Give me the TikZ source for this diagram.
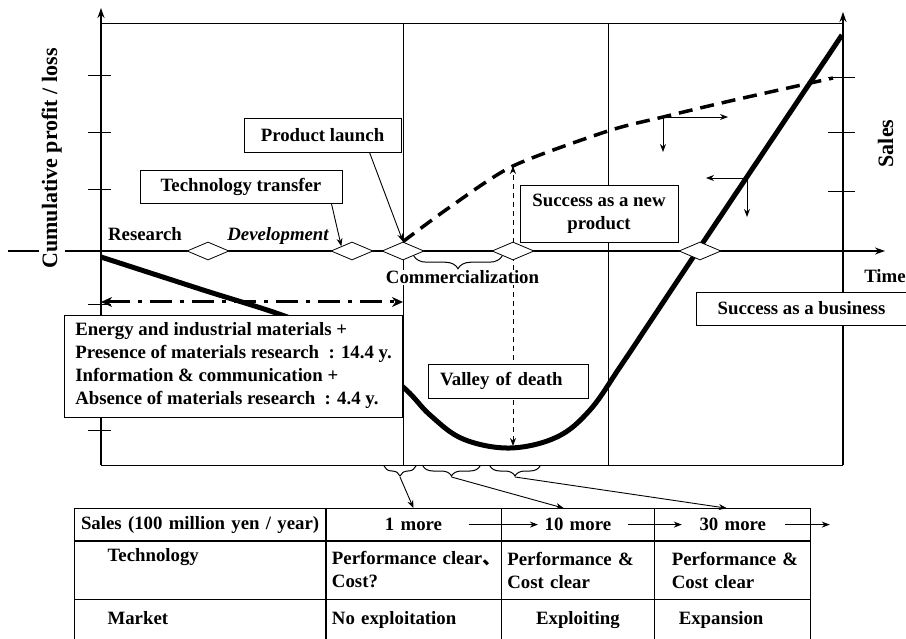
\documentclass[tikz,border=0pt]{standalone}
\usepackage{fontspec}
\setmainfont{Liberation Serif}
\newfontfamily\cjk{Noto Sans CJK JP}
\usepackage{tikz}
\usetikzlibrary{positioning,arrows,arrows.meta,shapes.geometric,matrix,decorations.pathreplacing}

\tikzstyle{labelbox}  = [rectangle, draw, fill=white, line width=0.8pt, inner sep=2pt, align=center]
\tikzstyle{milestone} = [diamond, draw, fill=white, line width=0.8pt, inner sep=0pt, minimum width=42pt, minimum height=18pt]
\tikzstyle{arrow}     = [line width=0.9pt,->,>={Stealth[length=8pt,width=6pt]}]
\tikzstyle{chartaxis} = [line width=1.5pt,->,>={Stealth[length=10pt,width=7pt]}]
\tikzstyle{bracket}   = [line width=1pt, decorate, decoration={brace, mirror, amplitude=10pt}]

\begin{document}
\begin{tikzpicture}[x=1pt, y=-1pt, font=\fontsize{18.8}{23}\selectfont\bfseries,
    salestable/.style={matrix of nodes, inner sep=0pt, column sep=-\pgflinewidth, row sep=-\pgflinewidth,
      nodes={draw, line width=0.8pt, anchor=center, inner xsep=6pt, inner ysep=0pt, align=left},
      column 1/.style={nodes={text width=239pt}},
      column 2/.style={nodes={text width=163pt}},
      column 3/.style={nodes={text width=141pt}},
      column 4/.style={nodes={text width=144pt}},
      row 1/.style={nodes={minimum height=32pt, align=center}},
      row 2/.style={nodes={minimum height=58pt}},
      row 3/.style={nodes={minimum height=40pt}}},
    biglabel/.style={rotate=90, anchor=base, font=\fontsize{22}{26}\selectfont\bfseries}]
  \useasboundingbox (0,0) rectangle (906,639);

  % frame and phase borders
  \draw[line width=1pt] (101,24) -- (843,24) (101,465) -- (843,465);
  \draw[line width=0.8pt] (403,24) -- (403,465) (608,24) -- (608,465);

  % axes
  \draw[chartaxis] (101,465) -- (101,8);
  \draw[chartaxis] (843,465) -- (843,12);
  \draw[chartaxis] (8,251) -- (885,251);
  \foreach \y in {76,133,190,305,430}
    \draw[line width=1pt] (88,\y) -- (111,\y);
  \foreach \y in {78,133,192}
    \draw[line width=1pt] (828,\y) -- (855,\y);

  \node[biglabel, fill=white, inner sep=3pt] (profitlabel) at (57,158.5) {Cumulative profit / loss};
  \node[biglabel] (saleslabel) at (893,143.5) {Sales};
  \node[anchor=base] (timelabel) at (885,283) {Time};

  % cumulative profit / loss
  \draw[line width=5pt] plot[smooth, tension=0.6] coordinates {(101,257) (200,289) (290,318) (350,346) (403,387) (430,415) (463,439) (510,448) (557,437) (590,410) (620,367) (660,307) (700,247) (842,35)};

  \coordinate (peak) at (513,166);
  \coordinate (trough) at (513,446);
  \draw[line width=0.8pt, dash pattern=on 5pt off 4pt, {Stealth[length=8pt,width=6pt]}-{Stealth[length=8pt,width=6pt]}] (trough) -- (peak);

  % milestones on the time axis
  \node[milestone] (d1) at (208,251) {};
  \node[milestone] (d2) at (352,251) {};
  \node[milestone] (d3) at (403,251) {};
  \node[milestone] (d4) at (513,251) {};
  \node[milestone] (d5) at (700,251) {};

  \node[anchor=base] (research) at (145,241) {Research};
  \node[anchor=base] (development) at (278,241) {\itshape Development};
  \node[anchor=base, fill=white, inner sep=1pt] (commerce) at (462.5,284) {Commercialization};
  \draw[bracket, decoration={amplitude=13pt}] (d3.south east) -- (d4.south west);

  % sales of the new product
  \draw[line width=3.5pt, dash pattern=on 14pt off 8pt] plot[smooth, tension=0.45] coordinates {(d3.north) (450,207) (peak) (608,131) (663,117) (730,101) (833,78)};

  \coordinate (salesmark) at (663,117);
  \coordinate (profitmark) at (747,178);
  \draw[arrow] (salesmark) -- ++(65,0);
  \draw[arrow] (salesmark) -- ++(0,35);
  \draw[arrow] (profitmark) -- ++(-41,0);
  \draw[arrow] (profitmark) -- ++(0,39);

  % callouts
  \node[labelbox, minimum width=202pt, minimum height=33pt] (transfer) at (241,186.5) {Technology transfer};
  \node[labelbox, minimum width=157pt, minimum height=34pt] (launch) at (322.5,135) {Product launch};
  \node[labelbox, minimum width=158pt, minimum height=57pt] (newprod) at (599,213.5) {Success as a new\\product};
  \node[labelbox, minimum width=211pt, minimum height=33pt] (business) at (801.5,308.5) {Success as a business};
  \node[labelbox, text width=136pt, inner xsep=12pt, align=left, minimum height=34pt] (valley) at (508,381) {Valley of death};
  \draw[arrow] ([xshift=-11pt]transfer.south east) -- (d2.north west);
  \draw[arrow] ([xshift=47pt]launch.south) -- (d3.north);

  % research period
  \coordinate (rstart) at (101,302);
  \coordinate (rend) at (403,302);
  \draw[line width=3pt, dash pattern=on 22pt off 8pt on 4pt off 8pt, {Stealth[length=11pt,width=10pt]}-{Stealth[length=11pt,width=10pt]}] (rstart) -- (rend);
  \node[labelbox, align=left, inner xsep=11pt, minimum height=102pt] (period) at (233.5,366)
    {Energy and industrial materials +\\
     Presence of materials research~~: 14.4 y.\\
     Information \& communication +\\
     Absence of materials research~~: 4.4 y.};

  % table of stages
  \matrix[salestable, anchor=north west] (tbl) at (74,508) {
    Sales (100 million yen / year) & 1 more & 10 more & 30 more \\
    {\hspace*{27pt}Technology\\\strut} & {Performance clear\rlap{\cjk 、}\\Cost?} & {Performance \&\\Cost clear} & {\hspace*{11pt}Performance \&\\\hspace*{11pt}Cost clear} \\
    \hspace*{27pt}Market\strut & No exploitation\strut & |[align=center]| Exploiting\strut & \hspace*{18pt}Expansion\strut \\
  };
  \draw[arrow] ([xshift=55pt]tbl-1-2.center) -- ([xshift=-40pt]tbl-1-3.center);
  \draw[arrow] ([xshift=50pt]tbl-1-3.center) -- ([xshift=-51pt]tbl-1-4.center);
  \draw[arrow] ([xshift=52pt]tbl-1-4.center) -- ([xshift=97pt]tbl-1-4.center);

  \draw[bracket] (384,466) -- (416,466);
  \draw[bracket] (423,466) -- (480,466);
  \draw[bracket] (490,466) -- (540,466);
  \coordinate (tip1) at (400,477);
  \coordinate (tip2) at (451.5,477);
  \coordinate (tip3) at (515,477);
  \draw[arrow] (tip1) -- (tbl-1-2.north);
  \draw[arrow] (tip2) -- ([xshift=-14pt]tbl-1-3.north);
  \draw[arrow] (tip3) -- ([xshift=-6pt]tbl-1-4.north);
\end{tikzpicture}
\end{document}
